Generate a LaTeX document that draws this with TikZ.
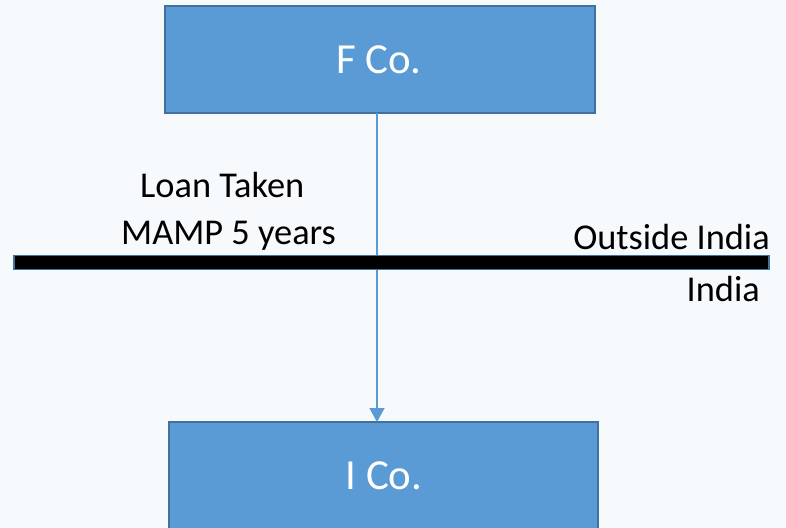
\documentclass[tikz,border=0pt]{standalone}
\usepackage{fontspec}
\setmainfont{Carlito}
\usetikzlibrary{arrows.meta}
\definecolor{bgc}{HTML}{F7FAFD}
\definecolor{boxfill}{HTML}{5B9BD5}
\definecolor{boxline}{HTML}{41719C}
\tikzset{
  cobox/.style={draw=boxline, line width=2bp, fill=boxfill, rectangle, inner sep=0pt},
  colabel/.style={text=white, font=\fontsize{43}{50}\selectfont, anchor=base, inner sep=0pt},
  plainlabel/.style={text=black, font=\fontsize{36.5}{44}\selectfont, inner sep=0pt},
  flow/.style={draw=boxfill, line width=1.5bp, -{Triangle[width=15bp,length=14bp]}}
}
\begin{document}
\begin{tikzpicture}[x=1bp,y=-1bp]
\fill[bgc] (0,0) rectangle (786,528);
\useasboundingbox (0,0) rectangle (786,528);
% boxes
\node[cobox, minimum width=430bp, minimum height=107bp] (fco) at (380,59.5) {};
\node[cobox, minimum width=429bp, minimum height=107bp] (ico) at (383.5,475.5) {};
\node[colabel] (fcot) at (379,74) {F Co.};
\node[colabel] (icot) at (384,489) {I Co.};
% arrow
\coordinate (top) at (377,113);
\coordinate (bot) at (377,422);
\draw[flow] (top) -- (bot);
% border bar
\node[draw=boxline, line width=1.2bp, fill=black, rectangle, inner sep=0pt,
      minimum width=755bp, minimum height=14bp] (bar) at (391.5,262.5) {};
% labels
\node[plainlabel, anchor=base west] (loan) at (140,198) {Loan Taken};
\node[plainlabel, anchor=base west] (mamp) at (121,245) {MAMP 5 years};
\node[plainlabel, anchor=base east] (out) at (770,250) {Outside India};
\node[plainlabel, anchor=base east] (ind) at (760,302) {India};
\end{tikzpicture}
\end{document}
